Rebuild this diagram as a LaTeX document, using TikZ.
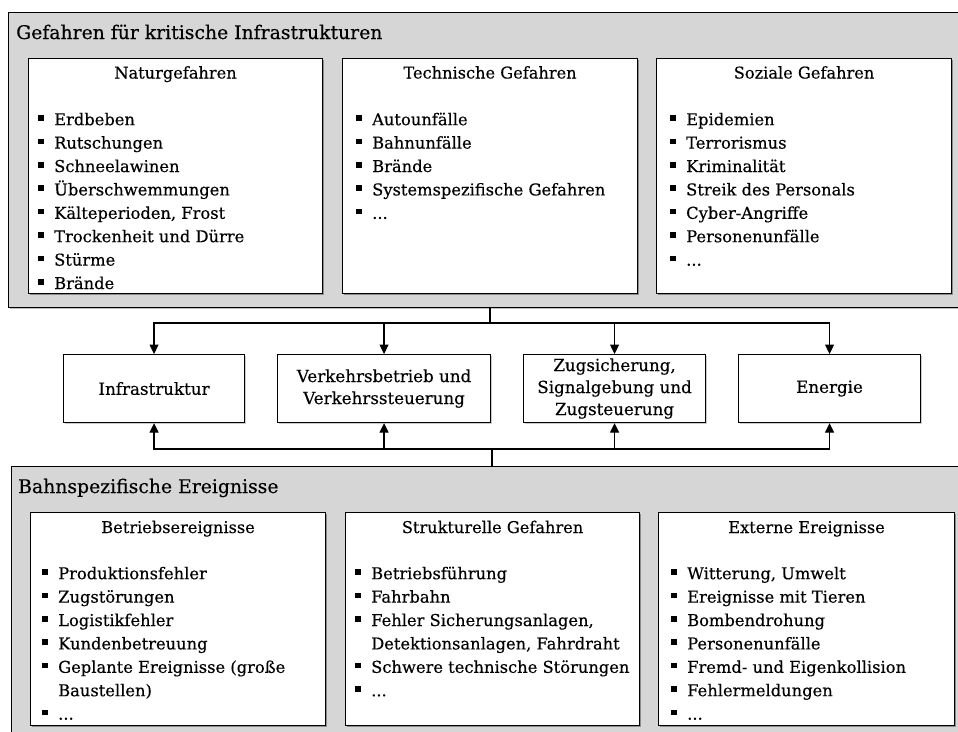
\documentclass[tikz,border=0pt]{standalone}
\usepackage{fontspec}
\setmainfont{DejaVu Serif}[FakeBold=0.35]
\usetikzlibrary{arrows.meta,shadows}
\definecolor{panelgray}{RGB}{214,214,214}
\newcommand{\bul}{\makebox[16pt][l]{\rule[4.5pt]{6pt}{5.5pt}}}
\newcommand{\ls}{\rule{0pt}{16pt}}
\newcommand{\lfont}{\fontsize{16.3}{23.4}\selectfont}
\newcommand{\hfont}{\fontsize{16.2}{20}\selectfont}
\newcommand{\mfont}{\fontsize{16.7}{22}\selectfont}
\newcommand{\tfont}{\fontsize{18.8}{22}\selectfont}
\begin{document}
\begin{tikzpicture}[x=1pt,y=-1pt,
  panel/.style={draw=black, line width=1.1pt, fill=panelgray, anchor=north west, inner sep=0pt,
    drop shadow={shadow xshift=1.5pt,shadow yshift=-1.5pt,fill=black!25,opacity=1}},
  catbox/.style={draw=black, line width=1.1pt, fill=white, anchor=north west, inner sep=0pt,
    drop shadow={shadow xshift=1.5pt,shadow yshift=-1.5pt,fill=black!45,opacity=1}},
  midbox/.style={draw=black, line width=1.1pt, fill=white, anchor=north west, inner sep=0pt,
    align=center, font=\mfont, minimum height=68pt,
    drop shadow={shadow xshift=1.5pt,shadow yshift=-1.5pt,fill=black!20,opacity=1}},
  ttl/.style={anchor=base west, inner sep=0pt, font=\tfont},
  hdr/.style={anchor=base, inner sep=0pt, font=\hfont},
  lst/.style={anchor=north west, inner sep=0pt, align=left, font=\lfont},
  conn/.style={line width=1.2pt},
  arr/.style={line width=1.2pt, -{Triangle[length=9.5pt,width=9pt]}}
]
\clip (0,0) rectangle (958,731);
\fill[white] (0,0) rectangle (958,731);

% top panel
\node[panel, minimum width=962pt, minimum height=295pt] (gfk) at (8,12) {};
\node[ttl] (gfkt) at (16,39) {Gefahren für kritische Infrastrukturen};

\node[catbox, minimum width=294pt, minimum height=235pt] (nat) at (28,58) {};
\node[catbox, minimum width=295pt, minimum height=235pt] (tec) at (342,58) {};
\node[catbox, minimum width=295pt, minimum height=235pt] (soz) at (656,58) {};

\node[hdr] (nath) at ([yshift=-20.5pt]nat.north) {Naturgefahren};
\node[hdr] (tech) at ([yshift=-20.5pt]tec.north) {Technische Gefahren};
\node[hdr] (sozh) at ([yshift=-20.5pt]soz.north) {Soziale Gefahren};

\node[lst] (natl) at (38,109) {\ls\bul Erdbeben\\\bul Rutschungen\\\bul Schneelawinen\\\bul Überschwemmungen\\\bul Kälteperioden, Frost\\\bul Trockenheit und Dürre\\\bul Stürme\\\bul Brände};
\node[lst] (tecl) at (356,109) {\ls\bul Autounfälle\\\bul Bahnunfälle\\\bul Brände\\\bul Systemspezifische Gefahren\\\bul ...};
\node[lst] (sozl) at (670,109) {\ls\bul Epidemien\\\bul Terrorismus\\\bul Kriminalität\\\bul Streik des Personals\\\bul Cyber-Angriffe\\\bul Personenunfälle\\\bul ...};

% middle row
\node[midbox, minimum width=181pt] (infra) at (63,354) {Infrastruktur};
\node[midbox, minimum width=213pt] (verk) at (277,354) {Verkehrsbetrieb und\\Verkehrssteuerung};
\node[midbox, minimum width=182pt] (zug) at (523,354) {Zugsicherung,\\Signalgebung und\\Zugsteuerung};
\node[midbox, minimum width=182pt] (ener) at (738,354) {Energie};

% bottom panel
\node[panel, minimum width=964pt, minimum height=290pt] (bahn) at (11,466) {};
\node[ttl] (bahnt) at (18,493) {Bahnspezifische Ereignisse};

\node[catbox, minimum width=295pt, minimum height=213pt] (betr) at (30,512) {};
\node[catbox, minimum width=294pt, minimum height=213pt] (stru) at (345,512) {};
\node[catbox, minimum width=296pt, minimum height=213pt] (extr) at (658,512) {};

\node[hdr] (betrh) at ([yshift=-21pt]betr.north) {Betriebsereignisse};
\node[hdr] (struh) at ([yshift=-21pt]stru.north) {Strukturelle Gefahren};
\node[hdr] (extrh) at ([yshift=-21pt]extr.north) {Externe Ereignisse};

\node[lst] (betrl) at (42,563) {\ls\bul Produktionsfehler\\\bul Zugstörungen\\\bul Logistikfehler\\\bul Kundenbetreuung\\\bul Geplante Ereignisse (große\\\hspace*{16pt}Baustellen)\\\bul ...};
\node[lst] (strul) at (355,563) {\ls\bul Betriebsführung\\\bul Fahrbahn\\\bul Fehler Sicherungsanlagen,\\\hspace*{16pt}Detektionsanlagen, Fahrdraht\\\bul Schwere technische Störungen\\\bul ...};
\node[lst] (extrl) at (671,563) {\ls\bul Witterung, Umwelt\\\bul Ereignisse mit Tieren\\\bul Bombendrohung\\\bul Personenunfälle\\\bul Fremd- und Eigenkollision\\\bul Fehlermeldungen\\\bul ...};

% connectors
\coordinate (st) at (490,323);
\coordinate (sb) at (492,449);
\draw[conn] (gfk.south -| st) -- (st);
\draw[arr] (st) -| (infra.north);
\draw[arr] (st) -| (verk.north);
\draw[arr] (st) -| (zug.north);
\draw[arr] (st) -| (ener.north);
\draw[conn] (bahn.north -| sb) -- (sb);
\draw[arr] (sb) -| (infra.south);
\draw[arr] (sb) -| (verk.south);
\draw[arr] (sb) -| (zug.south);
\draw[arr] (sb) -| (ener.south);
\end{tikzpicture}
\end{document}
